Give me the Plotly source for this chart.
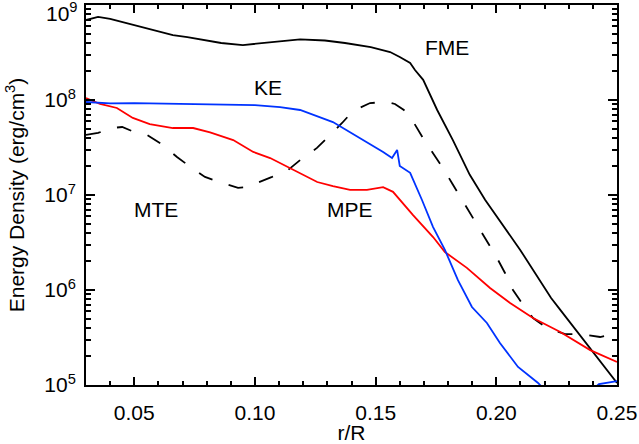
import plotly.graph_objects as go

# r/R positions and energy densities (erg/cm^3)
fme_x = [0.030, 0.035, 0.040, 0.045, 0.050, 0.056, 0.061, 0.066, 0.072, 0.077, 0.086, 0.095,
         0.106, 0.1187, 0.129, 0.1373, 0.148, 0.156, 0.160, 0.1643, 0.1663, 0.1697, 0.1755,
         0.182, 0.189, 0.1954, 0.2099, 0.2227, 0.2265, 0.2389, 0.250]
fme_y = [6.95e8, 7.48e8, 7.13e8, 6.62e8, 6.15e8, 5.59e8, 5.2e8, 4.83e8, 4.6e8, 4.34e8, 3.98e8, 3.79e8,
         4.07e8, 4.34e8, 4.23e8, 3.98e8, 3.61e8, 3.2e8, 2.84e8, 2.45e8, 2.07e8, 1.63e8, 7.85e7,
         3.79e7, 1.63e7, 8.86e6, 2.64e6, 8.24e5, 6.17e5, 2.45e5, 1.05e5]

ke_x = [0.030, 0.040, 0.050, 0.060, 0.0772, 0.100, 0.1104, 0.1187, 0.1323, 0.1394, 0.1464,
        0.1531, 0.1568, 0.1589, 0.160, 0.1643, 0.1692, 0.1738, 0.1787, 0.1841, 0.1899, 0.1961,
        0.2015, 0.2090, 0.2173, 0.2220, 0.2320, 0.2400, 0.2425, 0.2500]
ke_y = [9.53e7, 9.23e7, 9.29e7, 9.23e7, 9.08e7, 8.85e7, 8.43e7, 7.85e7, 5.86e7, 4.6e7, 3.61e7,
        2.84e7, 2.45e7, 2.98e7, 2.02e7, 1.71e7, 8.86e6, 4.6e6, 2.64e6, 1.27e6, 6.62e5, 4.5e5,
        2.77e5, 1.55e5, 1.05e5, 7.9e4, 7.1e4, 9.0e4, 1.02e5, 1.1e5]

mpe_x = [0.030, 0.0358, 0.0428, 0.0494, 0.0564, 0.066, 0.0744, 0.0814, 0.091, 0.0993, 0.1063,
         0.1146, 0.1258, 0.1323, 0.1394, 0.1464, 0.1531, 0.1572, 0.160, 0.1655, 0.1738, 0.1787,
         0.1878, 0.1974, 0.2057, 0.2152, 0.2265, 0.2389, 0.250]
mpe_y = [1.05e8, 9.08e7, 8.24e7, 6.47e7, 5.58e7, 5.07e7, 5.07e7, 4.57e7, 3.79e7, 2.84e7, 2.45e7,
         1.92e7, 1.37e7, 1.24e7, 1.13e7, 1.13e7, 1.21e7, 1.08e7, 8.86e6, 6.15e6, 3.61e6, 2.51e6,
         1.71e6, 1.05e6, 7.3e5, 5.07e5, 3.61e5, 2.33e5, 1.75e5]

mte_x = [0.030, 0.035, 0.0408, 0.045, 0.049, 0.0553, 0.0619, 0.0677, 0.0739, 0.0793, 0.0864,
         0.0930, 0.0971, 0.1009, 0.1071, 0.1137, 0.1187, 0.1257, 0.1303, 0.1361, 0.1406, 0.1477,
         0.1547, 0.158, 0.1617, 0.1659, 0.1696, 0.1738, 0.1779, 0.1816, 0.1858, 0.1891, 0.1928,
         0.1966, 0.2003, 0.2036, 0.2069, 0.2111, 0.2152, 0.221, 0.2285, 0.2347, 0.243, 0.2455, 0.250]
mte_y = [4.29e7, 4.5e7, 5.07e7, 5.2e7, 4.72e7, 4.29e7, 3.36e7, 2.51e7, 1.92e7, 1.55e7, 1.34e7,
         1.19e7, 1.21e7, 1.34e7, 1.55e7, 1.83e7, 2.33e7, 3.13e7, 4.08e7, 5.73e7, 7.66e7, 9.29e7,
         9.53e7, 9.08e7, 7.85e7, 5.73e7, 3.98e7, 2.77e7, 1.92e7, 1.34e7, 8.86e6, 6.47e6, 4.5e6,
         3.13e6, 2.17e6, 1.51e6, 1.0e6, 6.95e5, 5.07e5, 3.98e5, 3.44e5, 3.44e5, 3.2e5, 3.31e5, 3.63e5]

x_range = [0.03, 0.25]
y_range_log = [5, 9]
x_ticks = [0.05, 0.10, 0.15, 0.20, 0.25]
x_ticktext = ["0.05", "0.10", "0.15", "0.20", "0.25"]
y_ticks = [1e5, 1e6, 1e7, 1e8, 1e9]
y_ticktext = ["10<sup>5</sup>", "10<sup>6</sup>", "10<sup>7</sup>", "10<sup>8</sup>", ""]
y_top_label = "10<sup>9</sup>"

labels = [("FME", 0.680, 0.889), ("KE", 0.343, 0.782), ("MTE", 0.132, 0.461), ("MPE", 0.497, 0.461)]

FONT = "Liberation Sans, Arial, Helvetica, sans-serif"
PLOT_W, PLOT_H = 531, 380

fig = go.Figure()
fig.add_trace(go.Scatter(x=fme_x, y=fme_y, mode="lines", line=dict(color="black", width=1.8), name="FME"))
fig.add_trace(go.Scatter(x=mte_x, y=mte_y, mode="lines",
                         line=dict(color="black", width=1.8, dash="15px,17px"), name="MTE"))
fig.add_trace(go.Scatter(x=mpe_x, y=mpe_y, mode="lines", line=dict(color="#ff0000", width=1.8), name="MPE"))
fig.add_trace(go.Scatter(x=ke_x, y=ke_y, mode="lines", line=dict(color="#0033ff", width=1.8), name="KE"))

for txt, px, py in labels:
    fig.add_annotation(text=txt, x=px, y=py, xref="paper", yref="paper", showarrow=False,
                       xanchor="center", yanchor="middle",
                       font=dict(family=FONT, size=21, color="black"))
fig.add_annotation(text=y_top_label, x=-6 / PLOT_W, y=1 - 7 / PLOT_H, xref="paper", yref="paper",
                   showarrow=False, xanchor="right", yanchor="middle",
                   font=dict(family=FONT, size=21, color="black"))

fig.update_layout(
    width=639, height=444,
    margin=dict(l=86, r=22, t=5, b=59, autoexpand=False),
    paper_bgcolor="white", plot_bgcolor="white",
    showlegend=False,
    font=dict(family=FONT, size=21, color="black"),
)
fig.update_xaxes(
    range=x_range, tickmode="array", tickvals=x_ticks, ticktext=x_ticktext,
    ticks="inside", ticklen=8, tickwidth=1.5, tickcolor="black",
    showline=True, linecolor="black", linewidth=2, mirror="ticks",
    showgrid=False, zeroline=False, automargin=False,
    minor=dict(tick0=0, dtick=0.01, ticks="inside", ticklen=4, tickwidth=1.5,
               tickcolor="black", showgrid=False),
    ticklabeloverflow="allow", ticklabelstandoff=8,
    title=dict(text="r/R", standoff=4, font=dict(family=FONT, size=21)),
    tickfont=dict(family=FONT, size=21),
)
fig.update_yaxes(
    type="log", range=y_range_log, tickmode="array", tickvals=y_ticks, ticktext=y_ticktext,
    ticks="inside", ticklen=9, tickwidth=1.5, tickcolor="black",
    showline=True, linecolor="black", linewidth=2, mirror="ticks",
    showgrid=False, zeroline=False, automargin=False,
    minor=dict(dtick="D1", ticks="inside", ticklen=5, tickwidth=1.5,
               tickcolor="black", showgrid=False),
    ticklabeloverflow="allow", ticklabelstandoff=4,
    title=dict(text="Energy Density (erg/cm<sup>3</sup>)", standoff=14, font=dict(family=FONT, size=21)),
    tickfont=dict(family=FONT, size=21),
)

post = "document.body.style.margin='0';"
fig.write_html("out.html", post_script=post, config={"displayModeBar": False})
